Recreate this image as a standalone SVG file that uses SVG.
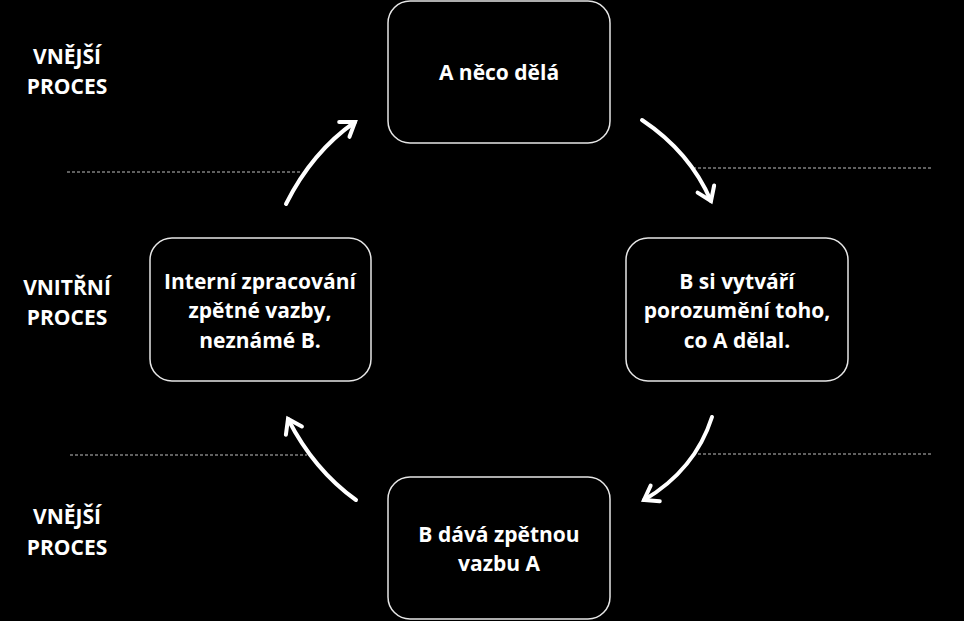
<svg xmlns="http://www.w3.org/2000/svg" width="964" height="621" viewBox="0 0 964 621">
<style>
.bg{fill:#000}
.box{fill:#000;stroke:#e6e6e6;stroke-width:1.5}
.t{fill:#fff;font-family:"Open Sans","Liberation Sans",sans-serif;font-weight:700;font-size:21px;text-anchor:middle}
.dash{stroke:#bfbfbf;stroke-width:1;stroke-dasharray:3 2;fill:none}
.arr{stroke:#fff;stroke-width:4;fill:none;stroke-linecap:round;marker-end:url(#ah)}
</style>
<defs>
<marker id="ah" markerUnits="userSpaceOnUse" markerWidth="30" markerHeight="30" refX="0" refY="0" viewBox="-20 -15 30 30" orient="auto">
<path d="M -13 -9 L 0 0 L -13 9" fill="none" stroke="#fff" stroke-width="4" stroke-linecap="round" stroke-linejoin="miter"/>
</marker>
</defs>
<rect class="bg" x="0" y="0" width="964" height="621"/>
<g id="labels">
<text class="t" x="67" y="64">VNĚJŠÍ</text>
<text class="t" x="67" y="94">PROCES</text>
<text class="t" x="67" y="295">VNITŘNÍ</text>
<text class="t" x="67" y="325">PROCES</text>
<text class="t" x="67" y="524">VNĚJŠÍ</text>
<text class="t" x="67" y="555">PROCES</text>
</g>
<g id="dividers">
<line class="dash" x1="67" y1="172" x2="300" y2="172"/>
<line class="dash" x1="693" y1="168" x2="933" y2="168"/>
<line class="dash" x1="70" y1="455" x2="307" y2="455"/>
<line class="dash" x1="693" y1="454" x2="933" y2="454"/>
</g>
<g id="n1">
<rect class="box" x="388" y="1" width="222" height="142" rx="22"/>
<text class="t" x="499" y="80">A něco dělá</text>
</g>
<g id="n2">
<rect class="box" x="626" y="238" width="222" height="143" rx="22"/>
<text class="t" x="737" y="289">B si vytváří</text>
<text class="t" x="737" y="318">porozumění toho,</text>
<text class="t" x="737" y="348">co A dělal.</text>
</g>
<g id="n3">
<rect class="box" x="388" y="477" width="222" height="142" rx="22"/>
<text class="t" x="499" y="542">B dává zpětnou</text>
<text class="t" x="499" y="571">vazbu A</text>
</g>
<g id="n4">
<rect class="box" x="150" y="238" width="221" height="143" rx="22"/>
<text class="t" x="260" y="289">Interní zpracování</text>
<text class="t" x="260" y="318">zpětné vazby,</text>
<text class="t" x="260" y="348">neznámé B.</text>
</g>
<g id="connectors">
<path class="arr" d="M 286 204 Q 312 152 355 122"/>
<path class="arr" d="M 642 120 Q 690 152 711 201"/>
<path class="arr" d="M 712 417 Q 695 470 644 500"/>
<path class="arr" d="M 356 500 Q 314 470 288 419"/>
</g>
</svg>
